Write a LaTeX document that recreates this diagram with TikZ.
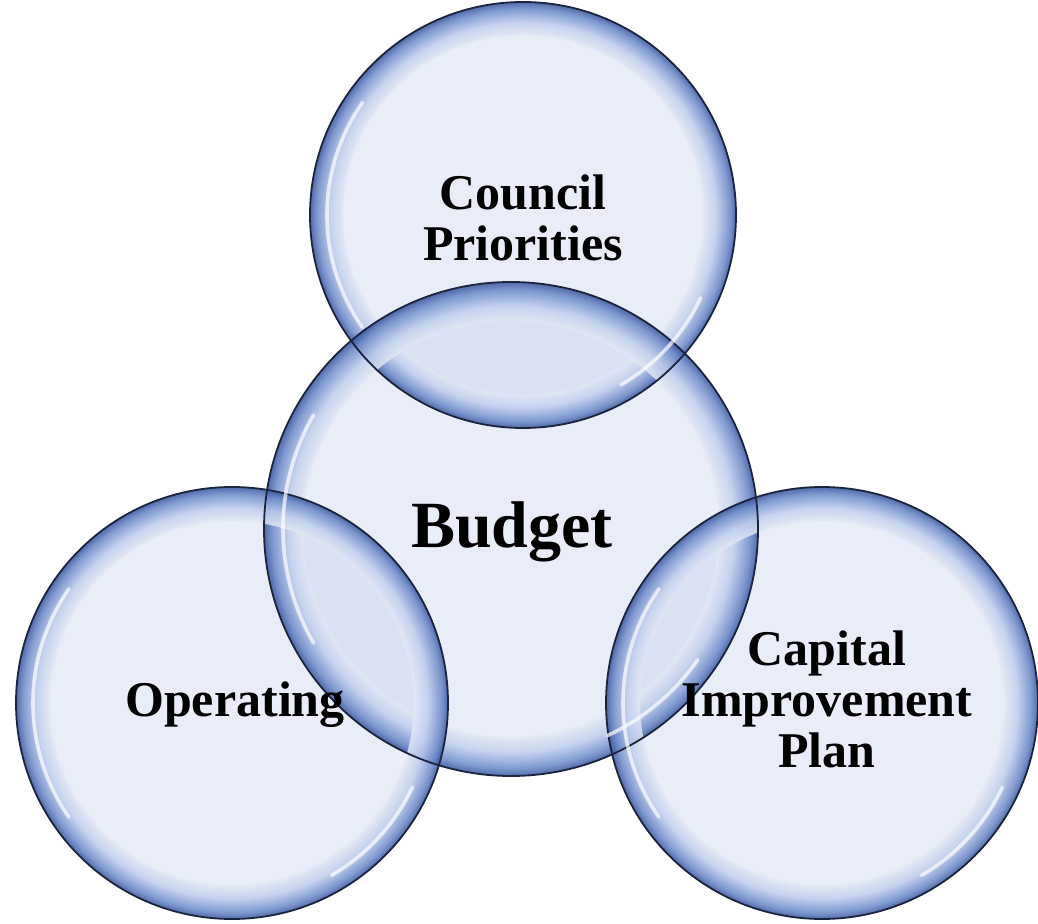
\documentclass[tikz,border=0pt]{standalone}
\usepackage{fontspec}
\setmainfont{Liberation Serif}
\definecolor{bubblefill}{RGB}{192,204,232}
\definecolor{bubbleface}{RGB}{233,237,247}
\definecolor{rimlight}{RGB}{192,207,237}
\definecolor{rimmid}{RGB}{110,140,202}
\definecolor{rimdark}{RGB}{55,86,158}
\definecolor{outline}{RGB}{26,36,60}
\pgfdeclareradialshading{rimshade}{\pgfpoint{0bp}{0bp}}{color(0bp)=(bubbleface); color(20.8bp)=(bubbleface); color(22.6bp)=(rimlight); color(24.2bp)=(rimmid); color(25bp)=(rimdark); color(50bp)=(rimdark)}
\begin{document}
\begin{tikzpicture}[x=0.5pt, y=-0.5pt,
  bubble/.style={circle, inner sep=0pt, fill=bubblefill, fill opacity=0.35},
  rim/.style={shading=rimshade, fill opacity=0.85, even odd rule},
  edge line/.style={draw=outline, line width=0.9pt},
  hilite/.style={draw=white, line width=1.8pt, line cap=round, opacity=0.7},
  bubble text/.style={font=\fontsize{25}{25.5}\selectfont\bfseries, align=center}]
\useasboundingbox (0,0) rectangle (1038,924);
% the four bubbles
\node[bubble, minimum size=213pt] (council) at (523,215) {};
\node[bubble, minimum size=247pt] (budget) at (511,529) {};
\node[bubble, minimum size=216pt] (operating) at (232,703) {};
\node[bubble, minimum size=216pt] (capital) at (822,703) {};
% rims
\shade[rim] (council.center) circle[radius=106.5pt] circle[radius=90pt];
\shade[rim] (budget.center) circle[radius=123.5pt] circle[radius=104pt];
\shade[rim] (operating.center) circle[radius=108pt] circle[radius=91pt];
\shade[rim] (capital.center) circle[radius=108pt] circle[radius=91pt];
% outlines
\draw[edge line] (council.center) circle[radius=106.5pt];
\draw[edge line] (budget.center) circle[radius=123.5pt];
\draw[edge line] (operating.center) circle[radius=108pt];
\draw[edge line] (capital.center) circle[radius=108pt];
% highlights
\draw[hilite] ([shift={(145:98pt)}]council.center) arc[start angle=145, end angle=215, radius=98pt];
\draw[hilite] ([shift={(300:98pt)}]council.center) arc[start angle=300, end angle=335, radius=98pt];
\draw[hilite] ([shift={(150:114pt)}]budget.center) arc[start angle=150, end angle=210, radius=114pt];
\draw[hilite] ([shift={(295:114pt)}]budget.center) arc[start angle=295, end angle=325, radius=114pt];
\draw[hilite] ([shift={(145:99.5pt)}]operating.center) arc[start angle=145, end angle=215, radius=99.5pt];
\draw[hilite] ([shift={(300:99.5pt)}]operating.center) arc[start angle=300, end angle=335, radius=99.5pt];
\draw[hilite] ([shift={(145:99.5pt)}]capital.center) arc[start angle=145, end angle=215, radius=99.5pt];
\draw[hilite] ([shift={(300:99.5pt)}]capital.center) arc[start angle=300, end angle=335, radius=99.5pt];
% texts
\node[bubble text] (council text) at (523,218) {Council\\Priorities};
\node[bubble text, font=\fontsize{33}{33}\selectfont\bfseries] (budget text) at (512,532) {Budget};
\node[bubble text] (operating text) at (235,705) {Operating};
\node[bubble text] (capital text) at (827,699) {Capital\\Improvement\\Plan};
\end{tikzpicture}
\end{document}
